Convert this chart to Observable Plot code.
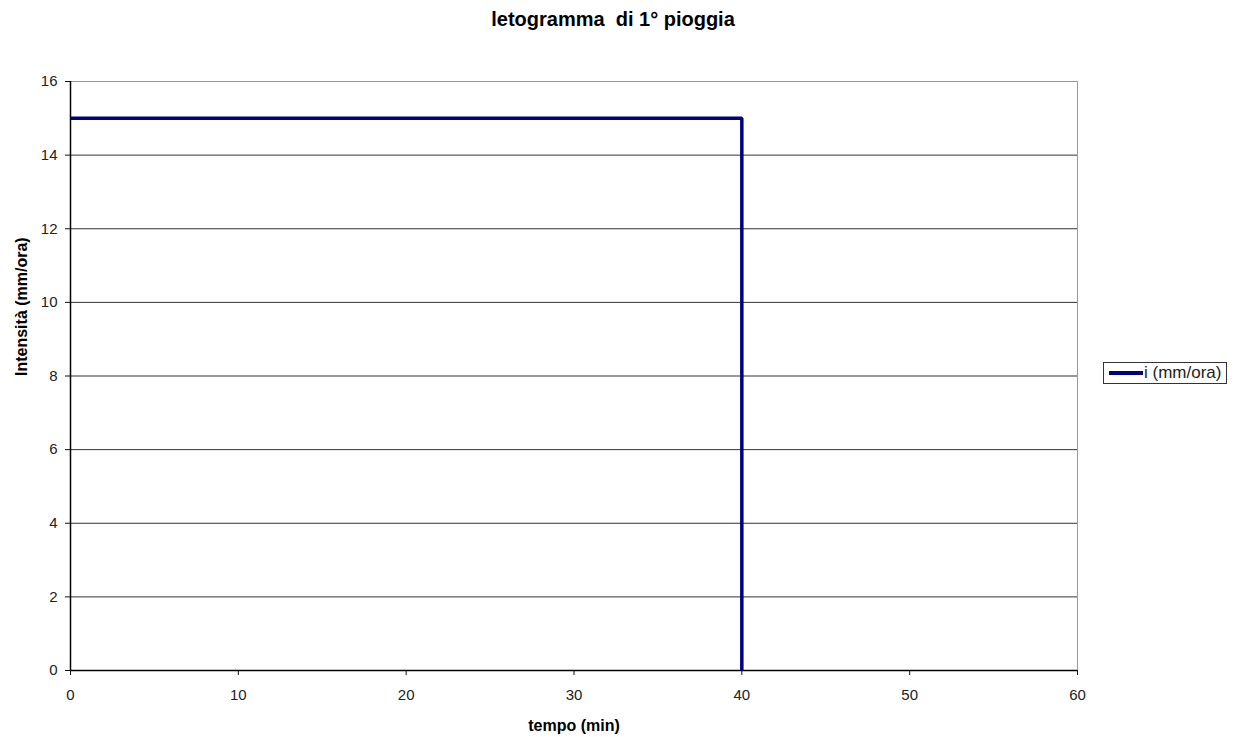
<!DOCTYPE html>
<html>
<head>
<meta charset="utf-8">
<script src="https://cdn.jsdelivr.net/npm/d3@7"></script>
<script src="https://cdn.jsdelivr.net/npm/@observablehq/plot@0.6"></script>
<style>
  body { margin: 0; background: #fff; font-family: "Liberation Sans", Arial, sans-serif; }
  #wrap { position: relative; width: 1236px; height: 737px; }
  #legend {
    position: absolute; left: 1103px; top: 362px; width: 122px; height: 20px;
    border: 1px solid #333; display: flex; align-items: center;
    font-size: 17px; color: #222; box-sizing: content-box;
  }
  #legend .swatch { display: inline-block; width: 34px; height: 4px; background: #000080; margin-left: 5px; margin-right: 1px; }
  #wrap svg g[aria-label="x-axis tick label"],
  #wrap svg g[aria-label="y-axis tick label"],
  #wrap svg g[aria-label="x-axis tick label"] text,
  #wrap svg g[aria-label="y-axis tick label"] text { font-size: 15px; fill: #222; }
</style>
</head>
<body>
<div id="wrap">
  <div id="legend"><span class="swatch"></span><span>i (mm/ora)</span></div>
</div>
<script>
// Rain intensity over time: constant 15 mm/h for 40 minutes, then zero
const tempo = [0, 40, 40];
const intensita = [15, 15, 0];

const xTicks = [0, 10, 20, 30, 40, 50, 60];
const yTicks = [0, 2, 4, 6, 8, 10, 12, 14, 16];

const titolo = "letogramma \u00a0di 1° pioggia";
const xLabel = "tempo (min)";
const yLabel = "Intensità (mm/ora)";

const series = tempo.map((t, i) => ({ t, v: intensita[i] }));

const chart = Plot.plot({
  width: 1236,
  height: 737,
  marginTop: 81,
  marginLeft: 70,
  marginRight: 159,
  marginBottom: 67,
  style: { fontFamily: "Liberation Sans, Arial, sans-serif", background: "transparent", color: "#111", overflow: "visible" },
  x: { domain: [0, 60], ticks: xTicks, label: null },
  y: { domain: [0, 16], ticks: yTicks, label: null },
  marks: [
    // horizontal gridlines
    Plot.ruleY(yTicks.filter(d => d > 0 && d < 16), { stroke: "#333", strokeWidth: 1 }),
    // plot area frame (top and right in gray)
    Plot.ruleY([16], { stroke: "#999", strokeWidth: 1 }),
    Plot.ruleX([60], { stroke: "#999", strokeWidth: 1 }),
    // axis lines
    Plot.ruleX([0], { stroke: "#000", strokeWidth: 1.5 }),
    Plot.ruleY([0], { stroke: "#000", strokeWidth: 1.5 }),
    Plot.axisX({ ticks: xTicks, tickSize: 5, tickPadding: 14, fontSize: 15, label: null, fill: "#222" }),
    Plot.axisY({ ticks: yTicks, tickSize: 5, tickPadding: 8, fontSize: 15, label: null, fill: "#222" }),
    // hyetograph
    Plot.line(series, { x: "t", y: "v", stroke: "#000080", strokeWidth: 3.5, strokeLinejoin: "miter", strokeLinecap: "butt" }),
    // titles
    Plot.text([titolo], { frameAnchor: "top", lineAnchor: "middle", dx: 39, dy: -62, fontSize: 20, fontWeight: "bold", fill: "#000" }),
    Plot.text([xLabel], { frameAnchor: "bottom", lineAnchor: "middle", dy: 55, fontSize: 16, fontWeight: "bold", fill: "#000" }),
    Plot.text([yLabel], { frameAnchor: "left", lineAnchor: "middle", dx: -49, rotate: -90, fontSize: 16, fontWeight: "bold", fill: "#000" })
  ]
});

document.getElementById("wrap").prepend(chart);
</script>
</body>
</html>
